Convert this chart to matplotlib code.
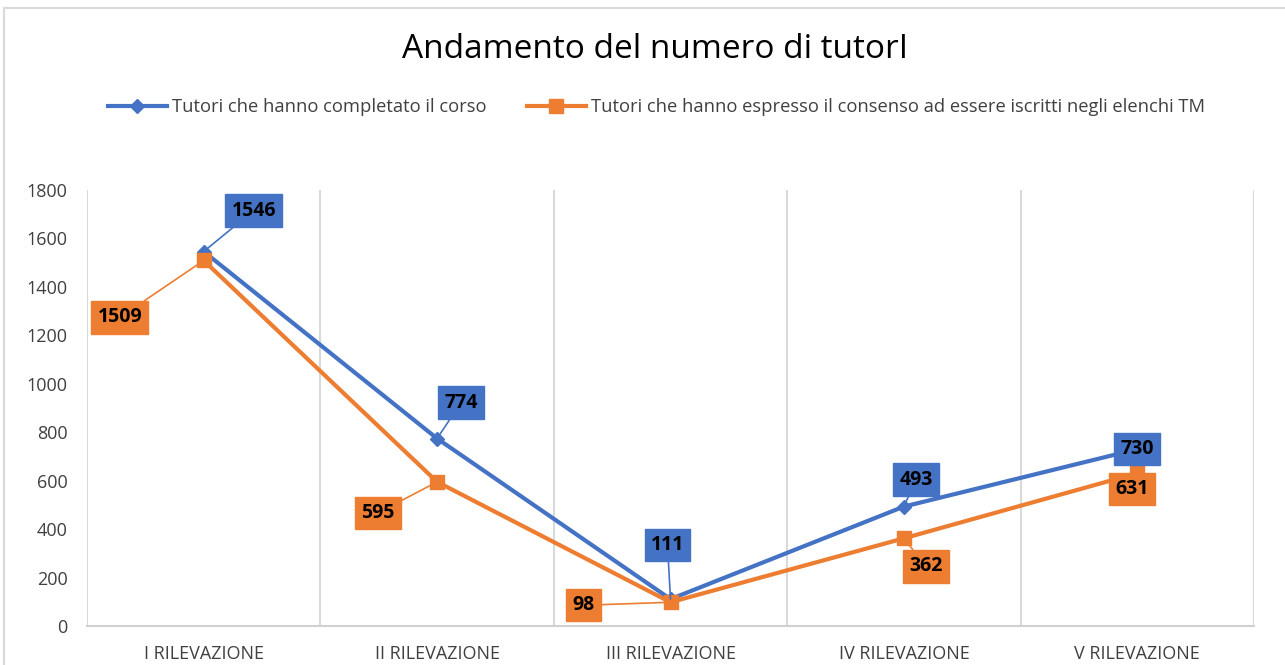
import matplotlib
matplotlib.use("Agg")
import matplotlib.pyplot as plt
from matplotlib.patches import Rectangle

categories = ["I RILEVAZIONE", "II RILEVAZIONE", "III RILEVAZIONE", "IV RILEVAZIONE", "V RILEVAZIONE"]
completed = [1546, 774, 111, 493, 730]
consent = [1509, 595, 98, 362, 631]
series_names = ["Tutori che hanno completato il corso",
                "Tutori che hanno espresso il consenso ad essere iscritti negli elenchi TM"]
title = "Andamento del numero di tutorI"
yticks = [0, 200, 400, 600, 800, 1000, 1200, 1400, 1600, 1800]

# label offsets in pixels (dx, dy) relative to markers
off_completed = [(50, 41), (24, 36), (-3, 54), (12, 27), (0, 0)]
off_consent = [(-84, -57), (-59, -31), (-87, -3), (22, -28), (-5, -16)]

BLUE = "#4472C4"
ORANGE = "#ED7D31"
FONT = ["Open Sans", "DejaVu Sans"]
plt.rcParams["font.family"] = FONT

fig = plt.figure(figsize=(12.85, 6.65), dpi=100)
fig.patches.append(Rectangle((4/1285, -0.01), 1.1, (665-8)/665 + 0.01, transform=fig.transFigure,
                             fill=False, edgecolor="#d9d9d9", lw=1.5))
ax = fig.add_axes([87/1285, 39/665, (1254-87)/1285, (626-190)/665])

x = list(range(len(categories)))
ax.plot(x, completed, color=BLUE, lw=3, marker="D", markersize=7, label=series_names[0], zorder=3)
ax.plot(x, consent, color=ORANGE, lw=3, marker="s", markersize=10, label=series_names[1], zorder=3)

ax.set_xlim(-0.5, len(categories) - 0.5)
ax.set_ylim(0, 1800)
ax.set_yticks(yticks)
ax.set_yticklabels([str(v) for v in yticks], fontsize=13, color="#404040")
ax.set_xticks(x)
ax.set_xticklabels(categories, fontsize=13, color="#404040")
ax.tick_params(length=0, pad=14)
ax.tick_params(axis="x", pad=14)
for b in [k - 0.5 for k in range(len(categories) + 1)]:
    ax.axvline(b, color="#d9d9d9", lw=1.5, zorder=0)
for s in ["top", "right", "left"]:
    ax.spines[s].set_visible(False)
ax.spines["bottom"].set_color("#d0d0d0")
ax.spines["bottom"].set_linewidth(1.5)

def add_labels(vals, offs, color):
    for i, (v, (dx, dy)) in enumerate(zip(vals, offs)):
        ax.annotate(str(v), xy=(i, v), xytext=(dx, dy), textcoords="offset pixels",
                    ha="center", va="center", fontsize=14, fontweight="bold", color="black",
                    bbox=dict(boxstyle="square,pad=0.32", fc=color, ec=color),
                    arrowprops=dict(arrowstyle="-", color=color, lw=1.2, shrinkA=0, shrinkB=0)
                    if (dx, dy) != (0, 0) else None,
                    zorder=5, annotation_clip=False)

add_labels(completed, off_completed, BLUE)
add_labels(consent, off_consent, ORANGE)

fig.text(0.510, 1 - 50/665, title, ha="center", va="center", fontsize=24, color="black")
leg = fig.legend(loc="center", bbox_to_anchor=(0.511, 1 - 107/665), ncol=2, frameon=False,
                 fontsize=13.2, handlelength=3.2, columnspacing=2.2, handletextpad=0.3)
for t in leg.get_texts():
    t.set_color("#404040")

fig.savefig("out.png", dpi=100, facecolor="white")
